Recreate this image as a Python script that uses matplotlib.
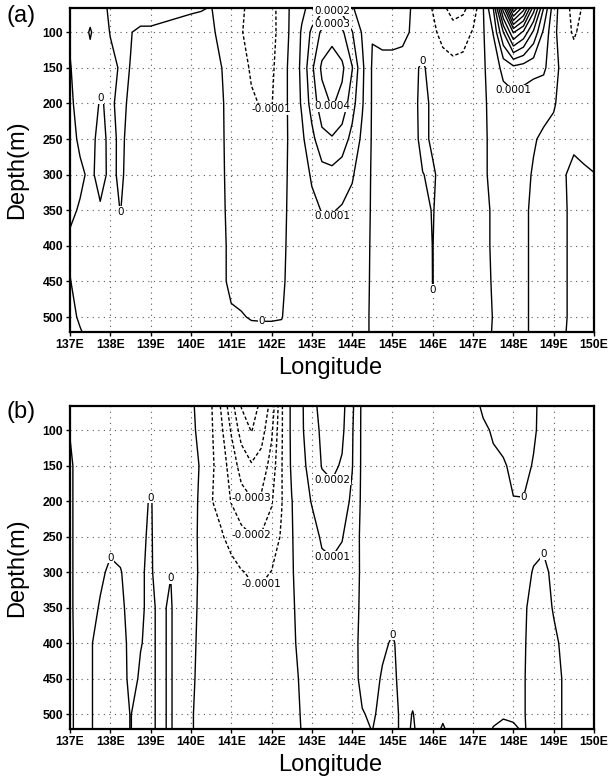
import numpy as np
import matplotlib
matplotlib.use("Agg")
import matplotlib.pyplot as plt

# ---------------- data (values in units of 1e-5) ----------------
lon = np.arange(137.0, 150.001, 0.25)          # 53 grid longitudes
depth = [66, 100, 150, 200, 250, 300, 350, 400, 450, 500, 521]

# panel (a) rows, one list per depth level
a_d066 = [1, 4, 4, 3, -1.5, -3, -3, -3, -3, -2.5, -2, -1.5, -1, -0.5, 0.3, -3, -6, -9, -12, -14, -13, -6, 2, 8, 13, 17, 18, 16, 11, 5, 1.5, 3, 3, 2, -0.5, -6, -10.5, -18, -24, -22, -16, -0.5, 20, 75, 130, 105, 65, 30, 4, -6, -13, -9, -3]
a_d100 = [1, 6, -1, 6, -0.5, -4, -0.2, 1, 1, 1.5, 2, 2.5, 3, 3, 2, -3, -7, -9.5, -13, -15, -14, -5, 2, 11, 22, 32, 36, 32, 20.5, 9, 0.5, 1.5, 1.5, 1, -0.5, -4, -8, -13, -16, -15, -9, -1, 10.5, 40, 71, 58, 38, 18, 2, -5, -11.5, -6, -2]
a_d150 = [-0.5, 4, 4, 3, 3, -1, 0.1, 3, 3.5, 4, 4, 4, 4, 3.5, 2.5, 0.3, -4, -7, -11, -13, -12, -4, 3, 12, 28, 42, 46, 42, 30.5, 12, -1, -1.5, -1.5, -1.5, -1.5, 1, -3, -6, -7, -6, -4, -1, 4, 13, 17, 15, 13, 12, 3, -3, -4, -3, -2]
a_d200 = [-1, 2, 3, -0.5, 1, -1.5, 1, 3, 3.5, 4, 4, 4, 4, 3.5, 3, 1, -3, -6, -9, -10.5, -10.5, -4, 3, 11, 24, 36, 41, 37, 24, 11, -1, -2, -2, -2, -1.5, 1.5, -1, -3, -3, -3, -2, -1, 2, 5, 6, 5, 3.5, 2, 0.5, -2, -2, -2, -2]
a_d250 = [-2, 1, 2, -2, 1.5, -1, 1.5, 3, 3.5, 4, 4, 4, 4, 3.5, 3, 1, -2.5, -5, -7, -8, -7.5, -3, 2, 8, 17, 27, 29, 25, 17, 8, -1, -2, -2, -2, -1.5, 1.2, -0.8, -2.5, -2.5, -2.5, -2, -1, 1.5, 3, 3.5, 2.5, 0.5, -1, -1.5, -0.3, -0.8, -1.2, -1.5]
a_d300 = [-3, -1, 1, -1.5, 1, -0.7, 1.5, 3, 3.5, 4, 4, 4, 4, 3.5, 3, 1, -2, -4, -5, -5.5, -5, -2.5, 2, 6, 11, 16, 17, 15, 11, 5, -1, -1.5, -1.5, -1.5, -1.5, -0.1, 0.6, -1.5, -2, -2, -1.5, -1, 1.5, 3, 3, 1.5, -0.5, -1, -1.5, -0.3, 1, 0.5, 0.1]
a_d350 = [-1, 0.5, 2, 0.5, 2, -0.1, 2, 3, 3.5, 4, 4, 4, 4, 3.5, 3, 1, -1.5, -3, -4, -4, -3.5, -2, 2, 5, 8, 10.3, 10.6, 9, 7, 4, -1, -1.5, -1.5, -1.5, -1.5, -1, 0.2, -1.5, -2, -2, -1.5, -1, 0.5, 2, 2.5, 1, -1, -1.5, -1.5, -0.5, 1, 1, 0.8]
a_d400 = [1, 2.5, 3, 3, 3, 2, 3, 3, 3.5, 4, 4, 4, 4, 3.5, 3, 1, -1, -2, -3, -3, -2.5, -1.5, 2, 4, 6, 7, 7, 6, 5, 3, -1, -1.5, -1.5, -1.5, -1.5, -1, 0.05, -1.5, -2, -2, -1.5, -1, 0.5, 2, 2, 1, -1, -1.5, -1.5, -0.5, 1, 1, 1]
a_d450 = [-0.2, 2, 3, 3, 3, 3, 3, 3, 3.5, 4, 4, 4, 4, 3.5, 3, 0.8, -0.8, -1.5, -2, -2, -1.8, -1, 2, 3, 5, 5, 5, 5, 4, 2.5, -1, -1.5, -1.5, -1.5, -1.5, -1, 0.03, -1.5, -2, -2, -1.5, -1, 0.3, 1.5, 1.5, 1, -1, -1.5, -1.5, -0.5, 1, 1, 1]
a_d500 = [-2, 1, 3, 3, 3, 3, 3, 3, 3.5, 4, 4, 4, 4, 3.5, 3, 1, 0.5, 0.3, -0.3, -0.4, -0.4, -0.2, 2, 3, 4, 4, 4, 4, 3, 2, -1, -1.5, -1.5, -1.5, -1.5, -1, -0.1, -1.5, -2, -2, -1.5, -1, 0.1, 1.5, 1.5, 1, -1, -1.5, -1.5, -0.5, 1, 1, 1]
a_d521 = [-3, -0.5, 2, 3, 3, 3, 3, 3, 3.5, 4, 4, 4, 4, 3.5, 3, 1.5, 1.2, 1, 1, 1, 1, 1, 2, 3, 4, 4, 4, 4, 3, 2, -1, -1.5, -1.5, -1.5, -1.5, -1, -0.5, -1.5, -2, -2, -1.5, -1, 0.2, 1.5, 1.5, 1, -1, -1.5, -1.5, -0.3, 1, 1, 1]

# panel (b) rows
b_d066 = [0.5, 2, 2, 2, 2, 2, 2, 2, 2, 2, 2, 2, 2, -4, -9, -21, -36, -50.5, -56, -47, -37, -11, 2, 9, 16, 24, 27, 23, 12, -2, -1, -1, -1, -1, -1, -1, -1, -1, -1, -1, -1, 0.5, 1, 1, 1, 1, 0.5, -1, -1, -1, -1, -1, -1]
b_d100 = [0.3, 2, 2.5, 2.5, 2.5, 2.5, 2.5, 2.5, 2.5, 2.5, 2.5, 2.5, 2.5, -3, -8.5, -18, -31, -44, -50.5, -44, -32, -11, 2, 9, 15, 22, 25, 22, 11, -2, -1, -1, -1, -1, -1, -1, -1, -1, -1, -1, -1, -0.5, 0.3, 1, 1, 1, 0.4, -1, -1, -1, -1, -1, -1]
b_d150 = [-1, 2.5, 3, 3, 3, 3, 3, 3, 3, 3, 3, 3, 4, -1, -8, -15, -24, -34, -39, -36, -26, -10.5, 1.5, 8, 13, 20.5, 22, 19, 10.5, -2, -1, -1, -1, -1, -1, -1, -1, -1, -1, -1, -1, -1, -0.5, -0.3, 0.6, 0.8, -0.2, -1, -1, -1, -1, -1, -1]
b_d200 = [-1, 2.5, 3, 3, 3, 3, 3, 1, -0.3, 2, 3, 3, 3, -1.5, -9.5, -13, -20.5, -26, -29, -28, -21, -10.5, -0.3, 6, 10.5, 15, 17, 15, 8, -2, -1, -1, -1, -1, -1, -1, -1, -1, -1, -1, -1, -1, -1, -1, -0.1, -0.1, -1, -1, -1, -1, -1, -1, -1]
b_d250 = [-1, 2.5, 3, 2.5, 1.5, 2, 2.5, 0.5, -0.4, 2, 2, 3, 2.5, -1.5, -5, -9, -13, -17, -19.5, -19, -15, -9, -0.5, 4, 7, 11, 12, 10.5, 5, -2, -1, -1, -1, -1, -1, -1, -1, -1, -1, -1, -1, -1, -1, -1, -1, -1, -1, -0.5, -1, -1, -1, -1, -1]
b_d300 = [-1, 2.5, 2.5, 1, -1, -0.3, 2, 0.3, -0.5, 2, 0.1, 3, 2, -1, -3, -5, -7, -9.5, -11, -11.5, -9.8, -6, -0.6, 3, 5, 8, 8.5, 7, 4, -1.5, -1, -1, -1, -1, -1, -1, -1, -1, -1, -1, -1, -1, -1, -1, -1, -1, 0.2, 0.5, -0.5, -1, -1, -1, -1]
b_d350 = [-1, 2.5, 2, -0.5, -1.5, -1, 1.5, 0.3, -0.5, 0.6, -0.5, 3.5, 1.5, -1, -2, -3.5, -5, -6.5, -7.5, -7, -6, -4, -0.8, 2, 4, 5, 5, 4, 3, -1.5, -1, -1, -1, -1, -1, -1, -1, -1, -1, -1, -1, -1, -1, -1, -1, -0.5, 1, 1, -0.2, -1, -1, -1, -1]
b_d400 = [-1, 2, 0.3, -1, -2, -1.5, 1, 0.1, -0.5, 0.6, -0.5, 3.5, 1, -1, -1.5, -2.5, -3.5, -4.5, -5, -5, -4, -3, -1, 1.5, 3, 4, 4, 3, 2, -1.5, -1, -0.5, 0.3, -1, -1, -1, -1, -1, -1, -1, -1, -1, -1, -1, -1, -0.3, 1, 1, 0.5, -0.5, -1, -1, -1]
b_d450 = [-1, 2, 0.3, -1, -2, -1.5, 0.8, -0.3, -0.5, 0.6, -0.5, 3.5, 0.8, -1.2, -1.5, -2, -2.5, -3, -3.5, -3.5, -3, -2, -1, 0.5, 2, 3, 3, 2, 1.5, -1, -1, 0.3, 1, -1.5, -1, -1, -1, -1, -1, -1, -1, -1, -1, -1, -1, -0.2, 1, 1, 0.8, -0.2, -1, -1, -1]
b_d500 = [-1, 2, 0.3, -1, -2, -1.5, 0.1, -1, -0.5, 0.6, -0.5, 3.5, 0.5, -1.5, -1.5, -2, -2, -2.5, -2.5, -2.5, -2, -1.5, -1, 0.2, 2, 2.5, 2.5, 2, 1.5, 0.2, -0.5, 1, 1.5, -1, 0.1, -1, -1, -0.5, -1, -1, -1, -1, -0.5, -0.3, -0.5, -0.2, 1, 1, 0.8, -0.2, -1, -1, -1]
b_d521 = [-1, 2, 0.3, -1, -2, -1.5, 0.1, -1, -0.5, 0.6, -0.5, 3.5, 0.5, -1.5, -1.5, -2, -2, -2.5, -2.5, -2.5, -2, -1.5, -1, 0.1, 1.5, 2, 2, 2, 1, 0.3, -0.05, 1, 1.5, -1, 0.3, -1, -1, 0.3, -1, -1, -1, -1, 0.1, 0.6, 0.4, -0.3, 1, 1, 0.8, -0.2, -1, -1, -1]

unit = 1e-5
level_steps = list(range(-6, 14))            # contour levels in units of 1e-4
xticks = list(range(137, 151))
yticks = [100, 150, 200, 250, 300, 350, 400, 450, 500]

# label anchor points (lon, depth) per level in 1e-4 units
labels_a = {0: [(137.77, 192), (138.25, 352), (145.72, 142), (146.0, 458), (141.74, 508)],
            -1: [(141.98, 210)], 2: [(143.45, 72)], 3: [(143.45, 90)],
            4: [(143.45, 205)], 1: [(143.5, 358), (147.95, 182)]}
labels_b = {0: [(138.0, 282), (139.0, 190), (139.47, 308), (148.18, 193), (148.73, 278), (144.97, 390)],
            -3: [(141.5, 196)], -2: [(141.5, 248)], -1: [(141.72, 318)],
            2: [(143.42, 172)], 1: [(143.42, 280)]}

# ---------------- figure ----------------
FW, FH = 608, 780
fig = plt.figure(figsize=(FW / 100, FH / 100), dpi=100)
tick_font = dict(family=["Liberation Sans Narrow", "Liberation Sans", "DejaVu Sans"],
                 size=8.8, weight="bold")
big_font = ["Liberation Sans", "DejaVu Sans"]

def fmt(v):
    return "0" if abs(v) < 1e-12 else f"{v:.4f}"

def panel(rect, rows, labels, tag, tag_y, lab_y):
    ax = fig.add_axes(rect)
    Z = np.array(rows, dtype=float) * unit
    levels = np.round(np.array(level_steps) * 1e-4, 6)
    styles = [(0, (2.5, 1.6)) if l < 0 else "solid" for l in levels]
    cs = ax.contour(lon, depth, Z, levels=levels, colors="k",
                    linewidths=1.0, linestyles=styles, zorder=3)
    ax.set_xlim(137, 150)
    ax.set_ylim(521, 66)
    # labels snapped to the nearest vertex of the drawn contour
    fig.canvas.draw()
    tr = ax.transData
    for step, pts in labels.items():
        li = int(np.argmin(np.abs(cs.levels - step * 1e-4)))
        segs = [s for s in cs.allsegs[li] if len(s)]
        if not segs:
            continue
        verts = np.vstack(segs)
        vd = tr.transform(verts)
        for (x, y) in pts:
            pd_ = tr.transform((x, y))
            k = int(np.argmin(((vd - pd_) ** 2).sum(axis=1)))
            vx, vy = verts[k]
            ax.text(vx, vy, fmt(cs.levels[li]), fontsize=7.5, ha="center", va="center",
                    family="DejaVu Sans", zorder=5,
                    bbox=dict(facecolor="white", edgecolor="none", pad=0.4))
    ax.set_xticks(xticks)
    ax.set_xticklabels([f"{v}E" for v in xticks], fontdict=tick_font)
    ax.set_yticks(yticks)
    ax.set_yticklabels([str(v) for v in yticks], fontdict=tick_font)
    ax.tick_params(direction="out", length=3, width=1, pad=2)
    ax.grid(True, linestyle=(0, (1, 4)), color="0.35", linewidth=0.8, zorder=1)
    for s in ax.spines.values():
        s.set_linewidth(1.6)
    fig.text(6 / FW, 1 - tag_y / FH, tag, fontsize=17, family=big_font, va="center", ha="left")
    fig.text(17 / FW, rect[1] + rect[3] * 0.5, "Depth(m)", rotation=90, fontsize=17,
             family=big_font, va="center", ha="center")
    fig.text(330 / FW, 1 - lab_y / FH, "Longitude", fontsize=17, family=big_font,
             va="center", ha="center")
    return ax

left, width = 70 / FW, (594 - 70) / FW
panel([left, 1 - 332 / FH, width, (332 - 8) / FH],
      [a_d066, a_d100, a_d150, a_d200, a_d250, a_d300, a_d350, a_d400, a_d450, a_d500, a_d521],
      labels_a, "(a)", 16, 368)
panel([left, 1 - 729 / FH, width, (729 - 406) / FH],
      [b_d066, b_d100, b_d150, b_d200, b_d250, b_d300, b_d350, b_d400, b_d450, b_d500, b_d521],
      labels_b, "(b)", 412, 765)

fig.savefig("out.png", dpi=100)
